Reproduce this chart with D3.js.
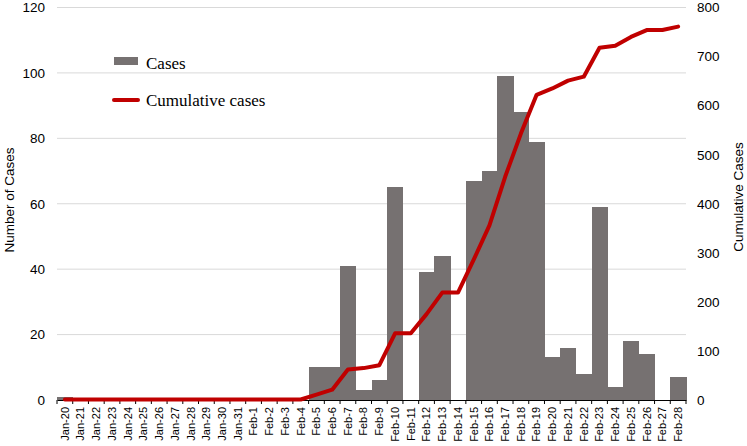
<!DOCTYPE html>
<html><head><meta charset="utf-8">
<script src="https://cdn.jsdelivr.net/npm/d3@7"></script>
<style>body{margin:0;background:#fff}svg{display:block}</style>
</head><body>
<svg id="c" width="747" height="446"></svg>
<script>
const categories = ["Jan-20","Jan-21","Jan-22","Jan-23","Jan-24","Jan-25","Jan-26","Jan-27","Jan-28","Jan-29","Jan-30","Jan-31",
 "Feb-1","Feb-2","Feb-3","Feb-4","Feb-5","Feb-6","Feb-7","Feb-8","Feb-9","Feb-10","Feb-11","Feb-12","Feb-13","Feb-14",
 "Feb-15","Feb-16","Feb-17","Feb-18","Feb-19","Feb-20","Feb-21","Feb-22","Feb-23","Feb-24","Feb-25","Feb-26","Feb-27","Feb-28"];
const cases = [1,0,0,0,0,0,0,0,0,0,0,0,0,0,0,0,10,10,41,3,6,65,0,39,44,0,67,70,99,88,79,13,16,8,59,4,18,14,0,7];
const cumulative = [1,1,1,1,1,1,1,1,1,1,1,1,1,1,1,1,11,21,62,65,71,136,136,175,219,219,286,356,455,543,622,635,651,659,718,722,740,754,754,761];
const leftTicks = [0,20,40,60,80,100,120];
const rightTicks = [0,100,200,300,400,500,600,700,800];

const svg = d3.select("#c");
const L = 57, R = 686, T = 7.5, B = 400;
const font = "'Liberation Sans', Arial, sans-serif";
const x = d3.scaleBand().domain(categories).range([L, R]).padding(0);
const y = d3.scaleLinear().domain([0,120]).range([B, T]);
const y2 = d3.scaleLinear().domain([0,800]).range([B, T]);

// gridlines
svg.append("g").selectAll("line").data(leftTicks.slice(1)).join("line")
  .attr("x1", L).attr("x2", R).attr("y1", d=>y(d)).attr("y2", d=>y(d))
  .attr("stroke", "#d9d9d9").attr("stroke-width", 1);

// bars
svg.append("g").attr("shape-rendering", "crispEdges").selectAll("rect").data(cases).join("rect")
  .attr("x", (d,i)=>x(categories[i])).attr("width", x.bandwidth() + 0.5)
  .attr("y", d=>y(d)).attr("height", d=>B - y(d))
  .attr("fill", "#767171");

// x axis
const xg = svg.append("g").attr("transform", `translate(0,${B})`)
  .call(d3.axisBottom(x).tickSize(0).tickPadding(0));
xg.select(".domain").attr("stroke", "#000").attr("stroke-width", 1);
xg.selectAll(".tick text").attr("font-family", font).attr("font-size", 11).attr("fill", "#000")
  .attr("transform", "rotate(-90)").attr("text-anchor", "end").attr("dx", "-7px").attr("dy", "0.35em").attr("y", 0).attr("x", 0);
// tick marks at band boundaries
svg.append("g").selectAll("line").data(d3.range(categories.length + 1)).join("line")
  .attr("x1", i => L + i * x.step()).attr("x2", i => L + i * x.step())
  .attr("y1", B).attr("y2", B + 4).attr("stroke", "#000").attr("stroke-width", 1);

// left axis
const yl = svg.append("g").attr("transform", `translate(${L},0)`)
  .call(d3.axisLeft(y).tickValues(leftTicks).tickSize(0).tickPadding(12));
yl.select(".domain").remove();
yl.selectAll("text").attr("font-family", font).attr("font-size", 13.5).attr("fill", "#000");

// right axis
const yr = svg.append("g").attr("transform", `translate(${R},0)`)
  .call(d3.axisRight(y2).tickValues(rightTicks).tickSize(0).tickPadding(11));
yr.select(".domain").remove();
yr.selectAll("text").attr("font-family", font).attr("font-size", 13.5).attr("fill", "#000");

// line
const line = d3.line().x((d,i)=>x(categories[i]) + x.bandwidth()/2).y(d=>y2(d));
svg.append("path").datum(cumulative).attr("d", line)
  .attr("fill", "none").attr("stroke", "#c00000").attr("stroke-width", 4)
  .attr("stroke-linejoin", "round").attr("stroke-linecap", "round");

// axis titles
svg.append("text").attr("transform", `translate(14,200) rotate(-90)`).attr("text-anchor", "middle")
  .attr("font-family", font).attr("font-size", 13.5).text("Number of Cases");
svg.append("text").attr("transform", `translate(743,197) rotate(-90)`).attr("text-anchor", "middle")
  .attr("font-family", font).attr("font-size", 13.5).text("Cumulative Cases");

// legend
const serif = "'Liberation Serif', 'Times New Roman', serif";
svg.append("rect").attr("x", 114).attr("y", 57).attr("width", 24).attr("height", 8).attr("fill", "#767171");
svg.append("text").attr("x", 146).attr("y", 69).attr("font-family", serif).attr("font-size", 17).text("Cases");
svg.append("line").attr("x1", 114).attr("x2", 138).attr("y1", 100).attr("y2", 100)
  .attr("stroke", "#c00000").attr("stroke-width", 4).attr("stroke-linecap", "round");
svg.append("text").attr("x", 146).attr("y", 106).attr("font-family", serif).attr("font-size", 17).text("Cumulative cases");
</script>
</body></html>
